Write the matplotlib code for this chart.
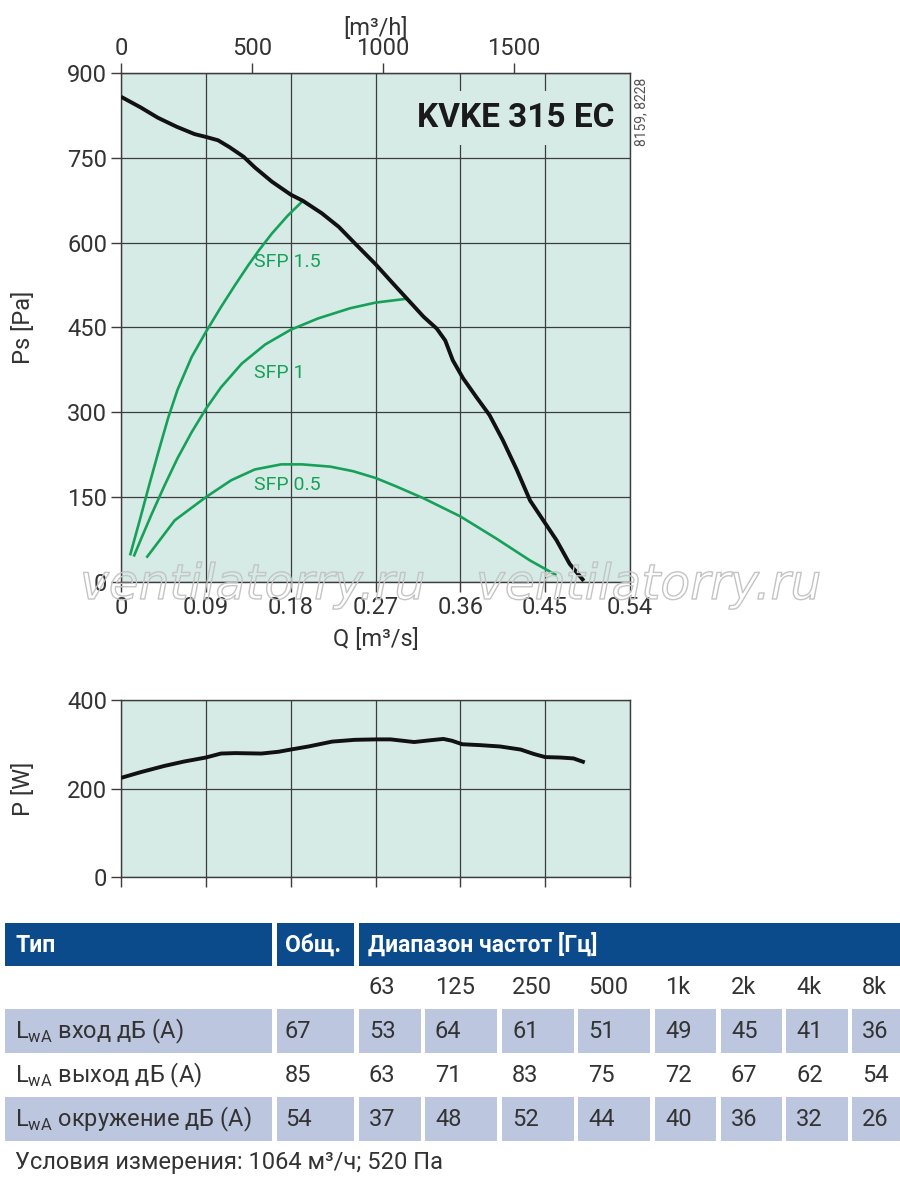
import matplotlib
matplotlib.use('Agg')
import matplotlib.pyplot as plt
import matplotlib.patheffects as pe
from matplotlib import font_manager as fm
from matplotlib.patches import Rectangle

# ── data ─────────────────────────────────────────────────────────
q_fan = [0, 0.021, 0.039, 0.059, 0.078, 0.09, 0.103, 0.115, 0.13, 0.142, 0.16,
         0.18, 0.193, 0.213, 0.231, 0.248, 0.27, 0.289, 0.305, 0.321, 0.335,
         0.344, 0.352, 0.363, 0.377, 0.391, 0.405, 0.42, 0.434, 0.448, 0.462,
         0.476, 0.491]
ps_fan = [858, 839, 821, 805, 792, 787, 781, 769, 752, 733, 708,
          685, 674, 652, 628, 599, 562, 527, 498, 469, 448,
          427, 392, 360, 327, 295, 251, 198, 144, 109, 74,
          32, 2]

q_sfp15 = [0.0096, 0.02, 0.03, 0.04, 0.05, 0.06, 0.075, 0.09, 0.106,
           0.121, 0.135, 0.147, 0.16, 0.177, 0.193]
ps_sfp15 = [47, 110, 172, 232, 290, 340, 398, 442, 486,
            525, 560, 588, 616, 648, 674]

q_sfp1 = [0.0135, 0.021, 0.032, 0.046, 0.06, 0.075, 0.09, 0.106, 0.128, 0.153,
          0.18, 0.209, 0.243, 0.27, 0.304]
ps_sfp1 = [45, 75, 118, 170, 219, 265, 306, 344, 386, 420,
           446, 466, 484, 494, 501]

q_sfp05 = [0.027, 0.057, 0.09, 0.117, 0.142, 0.17, 0.192, 0.222, 0.246, 0.27,
           0.292, 0.321, 0.36, 0.398, 0.434, 0.462]
ps_sfp05 = [43, 109, 150, 180, 199, 208, 208, 204, 196, 184,
            169, 148, 116, 77, 38, 12]

q_pow = [0, 0.021, 0.046, 0.067, 0.09, 0.106, 0.121, 0.149, 0.167, 0.18, 0.199,
         0.224, 0.248, 0.27, 0.286, 0.311, 0.328, 0.342, 0.351, 0.362, 0.381,
         0.402, 0.424, 0.438, 0.45, 0.466, 0.48, 0.492]
p_pow = [224, 237, 251, 261, 270, 279, 280, 279, 283, 288, 295,
         306, 310, 311, 311, 305, 309, 312, 308, 300, 298,
         295, 288, 278, 271, 270, 268, 259]

q_ticks = [0, 0.09, 0.18, 0.27, 0.36, 0.45, 0.54]
q_tick_labels = ['0', '0.09', '0.18', '0.27', '0.36', '0.45', '0.54']
ps_ticks = [0, 150, 300, 450, 600, 750, 900]
m3h_ticks = [0, 500, 1000, 1500]
p_ticks = [0, 200, 400]

freq_labels = ['63', '125', '250', '500', '1k', '2k', '4k', '8k']
row_names = ['вход', 'выход', 'окружение']
total = [67, 85, 54]
inlet = [53, 64, 61, 51, 49, 45, 41, 36]
outlet = [63, 71, 83, 75, 72, 67, 62, 54]
surround = [37, 48, 52, 44, 40, 36, 32, 26]

# ── style ────────────────────────────────────────────────────────
avail = {f.name for f in fm.fontManager.ttflist}
base = next(f for f in ['Liberation Sans Narrow', 'Roboto', 'DejaVu Sans'] if f in avail)
plt.rcParams['font.family'] = [base, 'DejaVu Sans']
plt.rcParams['mathtext.fontset'] = 'custom'
plt.rcParams['mathtext.rm'] = base

BG = '#d6ebe6'
GRID = '#3c3c3c'
TXT = '#333333'
GREEN = '#17a05a'
NAVY = '#0b4a8b'
CELL = '#bcc7df'

W, H = 900, 1187
fig = plt.figure(figsize=(9, 11.87), dpi=100)


def frac(x0, y0, x1, y1):
    return [x0 / W, 1 - y1 / H, (x1 - x0) / W, (y1 - y0) / H]


def style(ax):
    ax.set_facecolor(BG)
    for s in ax.spines.values():
        s.set_color(GRID)
        s.set_linewidth(1.0)
    ax.tick_params(direction='out', length=7, width=1, color=GRID,
                   labelsize=17, labelcolor=TXT, pad=3)
    ax.grid(True, color=GRID, linewidth=0.9)
    ax.set_axisbelow(True)


# ── pressure chart ───────────────────────────────────────────────
ax = fig.add_axes(frac(121, 73, 630, 582))
style(ax)
ax.set_xlim(0, 0.54)
ax.set_ylim(0, 900)
ax.set_xticks(q_ticks)
ax.set_xticklabels(q_tick_labels)
ax.set_yticks(ps_ticks)

for qs, ps in [(q_sfp15, ps_sfp15), (q_sfp1, ps_sfp1), (q_sfp05, ps_sfp05)]:
    ax.plot(qs, ps, color=GREEN, lw=1.9, solid_capstyle='butt',
            solid_joinstyle='round', zorder=3)
ax.plot(q_fan, ps_fan, color='#111111', lw=2.8, solid_capstyle='butt',
        solid_joinstyle='round', zorder=4)

for lbl, y in [('SFP 1.5', 565), ('SFP 1', 370), ('SFP 0.5', 171)]:
    ax.text(0.141, y, lbl, color=GREEN, fontsize=14, va='center', ha='left', zorder=5)

ax.text(0.524, 820, 'KVKE 315 EC', fontsize=24, fontweight='bold', color='#1a1a1a',
        ha='right', va='center', zorder=5,
        bbox=dict(facecolor=BG, edgecolor='none', pad=8))

ax.set_ylabel('Ps [Pa]', fontsize=17, color=TXT)
ax.yaxis.set_label_coords(-0.168, 0.5)
ax.set_xlabel('Q [m³/s]', fontsize=17, color=TXT, va='top')
ax.xaxis.set_label_coords(0.5, -0.09)

top = ax.secondary_xaxis('top', functions=(lambda q: q * 3600, lambda v: v / 3600))
top.set_xticks(m3h_ticks)
top.tick_params(direction='out', length=7, width=1, color=GRID,
                labelsize=17, labelcolor=TXT, pad=2)
top.spines['top'].set_color(GRID)
top.set_xlabel('[m³/h]', fontsize=17, color=TXT, labelpad=2)

fig.text(641 / W, 1 - 112 / H, '8159, 8228', rotation=90, fontsize=10,
         color='#555555', ha='center', va='center')

# watermark
for wx in (80, 476):
    fig.text(wx / W, 1 - 599 / H, 'ventilatorry.ru', fontsize=35,
             style='italic', color='none', ha='left', va='baseline', zorder=10,
             family='DejaVu Sans',
             path_effects=[pe.withStroke(linewidth=1.0, foreground='#c4c4c4')])

# ── power chart ──────────────────────────────────────────────────
ax2 = fig.add_axes(frac(121, 700, 630, 877))
style(ax2)
ax2.set_xlim(0, 0.54)
ax2.set_ylim(0, 400)
ax2.set_xticks(q_ticks)
ax2.set_xticklabels([])
ax2.set_yticks(p_ticks)
ax2.plot(q_pow, p_pow, color='#111111', lw=2.8, solid_capstyle='butt',
         solid_joinstyle='round', zorder=4)
ax2.set_ylabel('P [W]', fontsize=17, color=TXT)
ax2.yaxis.set_label_coords(-0.168, 0.5)

# ── sound table ──────────────────────────────────────────────────
tb = fig.add_axes([0, 0, 1, 1])
tb.set_xlim(0, W)
tb.set_ylim(H, 0)
tb.axis('off')

col_l = [5, 277, 359, 425, 502, 578, 655, 721, 786, 852]
col_r = [272, 354, 421, 497, 574, 650, 716, 782, 848, 900]

for x0, x1 in [(5, 272), (277, 354), (359, 900)]:
    tb.add_patch(Rectangle((x0, 923), x1 - x0, 43, facecolor=NAVY, edgecolor='none'))
for x0, txt in [(15, 'Тип'), (285, 'Общ.'), (368, 'Диапазон частот [Гц]')]:
    tb.text(x0, 945, txt, color='white', fontsize=16.5, fontweight='bold', va='center')

for i, f in enumerate(freq_labels):
    tb.text(col_l[i + 2] + 10, 988, f, color=TXT, fontsize=17, va='center')

rows = [inlet, outlet, surround]
row_y = [1031, 1075, 1119]
for r, (name, tot, vals, yc) in enumerate(zip(row_names, total, rows, row_y)):
    if r != 1:
        for x0, x1 in zip(col_l, col_r):
            tb.add_patch(Rectangle((x0, yc - 22), x1 - x0, 44,
                                   facecolor=CELL, edgecolor='none'))
    tb.text(15, yc, r'L$_{\mathregular{wA}}$ ' + name + ' дБ (A)', color=TXT,
            fontsize=17, va='center')
    tb.text(col_l[1] + 8, yc, str(tot), color=TXT, fontsize=17, va='center')
    for i, v in enumerate(vals):
        tb.text(col_l[i + 2] + 10, yc, str(v), color=TXT, fontsize=17, va='center')

tb.text(15, 1163, 'Условия измерения: 1064 м³/ч; 520 Па', color=TXT,
        fontsize=17, va='center')

fig.savefig('out.png', dpi=100)
